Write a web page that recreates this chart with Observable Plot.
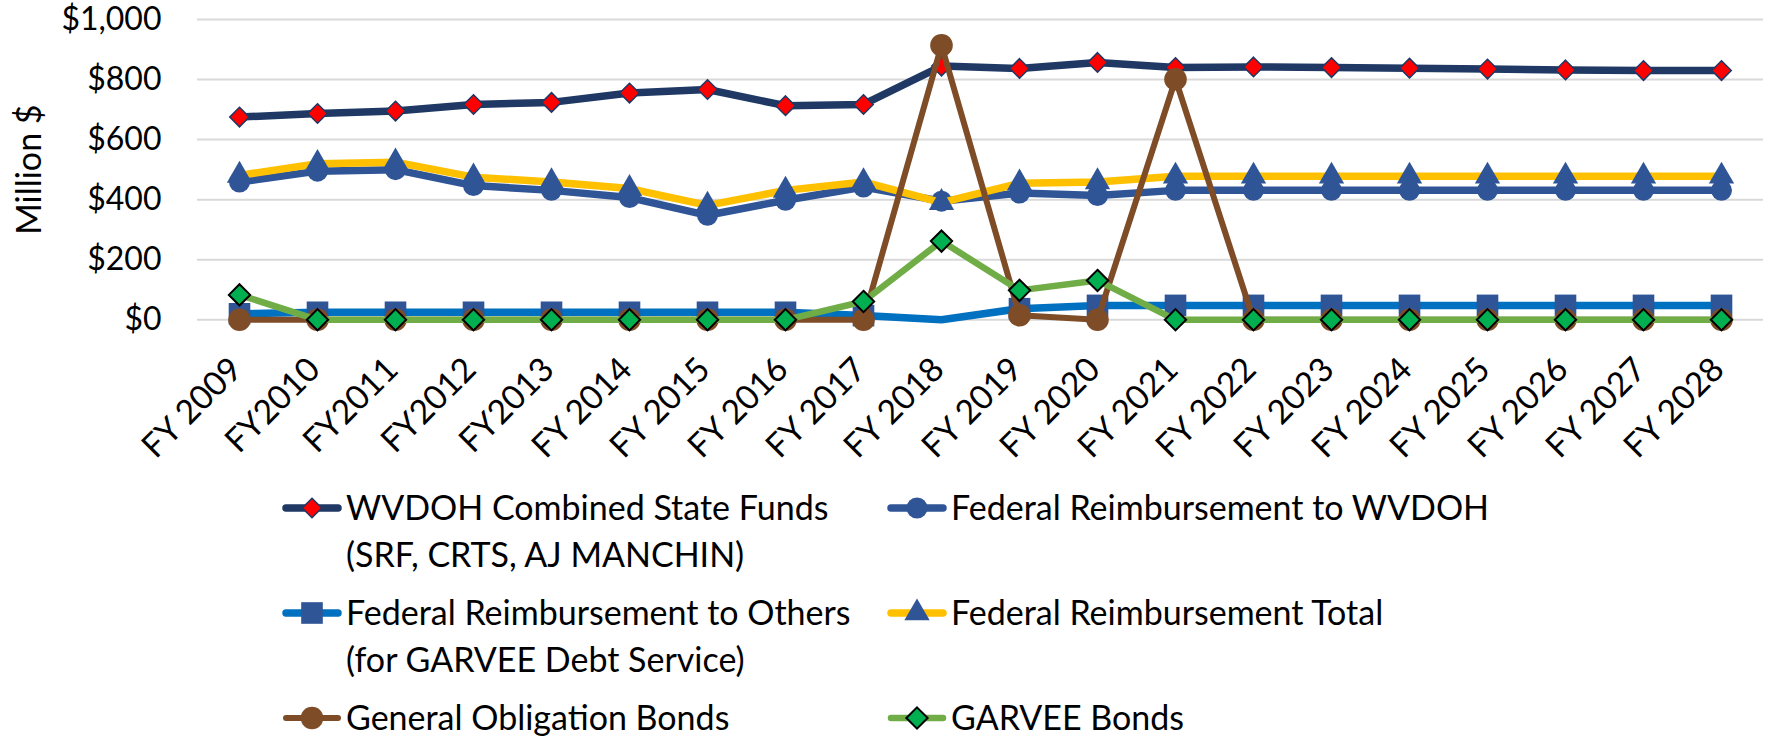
<!DOCTYPE html>
<html>
<head>
<meta charset="utf-8">
<script src="https://cdn.jsdelivr.net/npm/d3@7"></script>
<script src="https://cdn.jsdelivr.net/npm/@observablehq/plot@0.6"></script>
<style>
  body { margin: 0; background: #fff; }
  #chart svg { display: block; }
</style>
</head>
<body>
<div id="chart"></div>
<script>
// ---- Data (Million $) ----
const categories = ["FY 2009","FY2010","FY2011","FY2012","FY2013","FY 2014","FY 2015","FY 2016","FY 2017","FY 2018","FY 2019","FY 2020","FY 2021","FY 2022","FY 2023","FY 2024","FY 2025","FY 2026","FY 2027","FY 2028"];
const wvdohState = [675, 687, 695, 717, 724, 755, 767, 713, 717, 845, 837, 857, 840, 842, 840, 838, 835, 832, 830, 830];
const fedWvdoh   = [459, 495, 500, 447, 431, 407, 348, 398, 442, 395, 422, 414, 431, 431, 431, 431, 431, 431, 431, 431];
const fedOthers  = [20, 25, 25, 25, 25, 25, 25, 25, 14, 0, 37, 48, 48, 48, 48, 48, 48, 48, 48, 48];
const fedTotal   = [481, 520, 525, 475, 459, 437, 381, 431, 459, 390, 455, 459, 478, 478, 478, 478, 478, 478, 478, 478];
const goBonds    = [0, 0, 0, 0, 0, 0, 0, 0, 0, 914, 15, 0, 801, 0, 0, 0, 0, 0, 0, 0];
const garvee     = [83, 0, 0, 0, 0, 0, 0, 0, 61, 262, 98, 131, 0, 0, 0, 0, 0, 0, 0, 0];
const yTicks = [0, 200, 400, 600, 800, 1000];
const yLabel = "Million $";

// ---- Series styling ----
const series = [
  {name: ["WVDOH Combined State Funds", "(SRF, CRTS, AJ MANCHIN)"], values: wvdohState, line: "#1F3864", lw: 7.5, symbol: "diamond2", fill: "#FF0000", mstroke: "#1F3864", msw: 1.5, r: 8.8},
  {name: ["Federal Reimbursement to WVDOH"], values: fedWvdoh, line: "#2F5597", lw: 7.5, symbol: "circle", fill: "#2F5597", mstroke: "none", msw: 0, r: 10.5},
  {name: ["Federal Reimbursement to Others", "(for GARVEE Debt Service)"], values: fedOthers, line: "#0070C0", lw: 7.5, symbol: "square", fill: "#2F5597", mstroke: "none", msw: 0, r: 12.2, hideZero: true},
  {name: ["Federal Reimbursement Total"], values: fedTotal, line: "#FFC000", lw: 7.5, symbol: "triangle", fill: "#2F5597", mstroke: "none", msw: 0, r: 9.4},
  {name: ["General Obligation Bonds"], values: goBonds, line: "#7E4D27", lw: 6, symbol: "circle", fill: "#7E4D27", mstroke: "none", msw: 0, r: 11.3},
  {name: ["GARVEE Bonds"], values: garvee, line: "#70AD47", lw: 6.5, symbol: "diamond2", fill: "#00B050", mstroke: "#000000", msw: 2, r: 9.6}
];

const W = 1771, H = 470;
const font = "Lato, 'Open Sans', sans-serif";

const marks = [
  Plot.ruleY(yTicks, {stroke: "#D9D9D9", strokeWidth: 2})
];
for (const s of series) {
  const data = categories.map((c, i) => ({c, v: s.values[i]}));
  marks.push(Plot.line(data, {x: "c", y: "v", stroke: s.line, strokeWidth: s.lw, strokeLinejoin: "round", strokeLinecap: "butt"}));
  const dotData = s.hideZero ? data.filter(d => d.v > 0) : data;
  marks.push(Plot.dot(dotData, {x: "c", y: "v", symbol: s.symbol, r: s.r, fill: s.fill, stroke: s.mstroke, strokeWidth: s.msw}));
}
marks.push(
  Plot.axisY({ticks: yTicks, tickSize: 0, tickPadding: 36, tickFormat: d => "$" + d3.format(",")(d), fontSize: 32, label: null, fill: "#000"}),
  Plot.text(categories, {x: d => d, frameAnchor: "bottom", dy: 44, dx: -3, rotate: -45, textAnchor: "end", lineAnchor: "middle", fontSize: 33.5, fill: "#000"}),
  Plot.text([yLabel], {frameAnchor: "left", dx: -167, rotate: -90, textAnchor: "middle", lineAnchor: "middle", fontSize: 34, fill: "#000"})
);

const chart = Plot.plot({
  width: W,
  height: H,
  marginTop: 19,
  marginBottom: H - 319.3,
  marginLeft: 197,
  marginRight: 8,
  style: {fontFamily: font, fontSize: "32px", color: "#000", background: "#fff", overflow: "visible"},
  x: {type: "point", domain: categories, padding: 0.5, axis: null},
  y: {domain: [0, 1000], axis: null},
  marks
});
document.getElementById("chart").appendChild(chart);

// ---- Legend (below the plot SVG) ----
const LH = 737 - H;
const legend = d3.select("#chart").append("svg")
  .attr("width", W).attr("height", LH)
  .attr("font-family", font).attr("font-size", 34);
const colX = [283, 888];
const rowY = [38, 143, 248];
series.forEach((s, i) => {
  const x0 = colX[i % 2], y0 = rowY[Math.floor(i / 2)];
  const g = legend.append("g");
  g.append("line").attr("x1", x0 + 3).attr("x2", x0 + 55).attr("y1", y0).attr("y2", y0)
    .attr("stroke", s.line).attr("stroke-width", s.lw).attr("stroke-linecap", "round");
  const symType = {circle: d3.symbolCircle, square: d3.symbolSquare, triangle: d3.symbolTriangle, diamond2: d3.symbolDiamond2}[s.symbol];
  g.append("path").attr("transform", `translate(${x0 + 29},${y0})`)
    .attr("d", d3.symbol(symType, Math.PI * s.r * s.r)())
    .attr("fill", s.fill).attr("stroke", s.mstroke).attr("stroke-width", s.msw);
  s.name.forEach((t, k) => {
    g.append("text").attr("x", x0 + 63).attr("y", y0 + k * 47).attr("dy", "0.35em").attr("fill", "#000").text(t);
  });
});
</script>
</body>
</html>
